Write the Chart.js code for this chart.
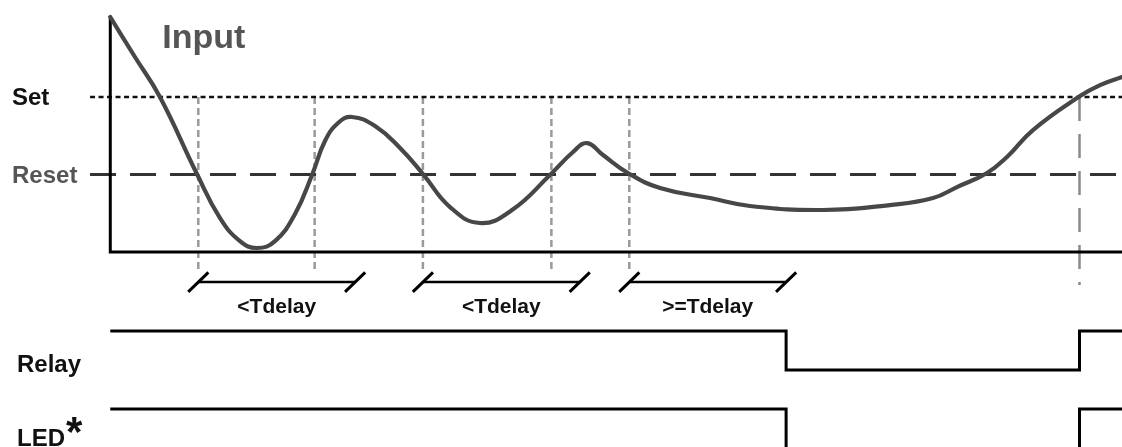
<!DOCTYPE html>
<html>
<head>
<meta charset="utf-8">
<script src="https://cdn.jsdelivr.net/npm/chart.js@4.4.0/dist/chart.umd.min.js"></script>
<style>
  html, body { margin: 0; padding: 0; background: #fff; }
  #wrap { width: 1122px; height: 447px; position: relative; }
</style>
</head>
<body>
<div id="wrap"><canvas id="c"></canvas></div>
<script>
// ---------------- DATA ----------------
// Input signal (time units, input level where Set = 1, Reset = 0.5)
const inputTime  = [0, 2.44, 4.91, 8.57, 10.85, 12.82, 14.5, 16.28, 18.26, 19.94, 21.22, 22.51, 23.89, 26.17, 28.64, 30.91, 33.58, 36.54, 39.71, 43.46, 45.74, 47.12, 48.7, 51.17, 54.34, 59.28, 63.23, 70.45, 77.07, 81.32, 83.69, 86.66, 88.63, 91.2, 95.85, 97.83, 100];
const inputLevel = [1.516, 1.258, 1.0, 0.503, 0.219, 0.07, 0.026, 0.07, 0.245, 0.497, 0.716, 0.832, 0.871, 0.813, 0.671, 0.503, 0.29, 0.187, 0.271, 0.497, 0.645, 0.703, 0.626, 0.51, 0.413, 0.348, 0.297, 0.271, 0.303, 0.348, 0.419, 0.51, 0.613, 0.787, 1.006, 1.077, 1.129];
const setLevel = 1.0;
const resetLevel = 0.5;
// Reset-crossing instants (dotted markers) and Set-crossing instant (dashed marker)
const resetCrossTimes = [8.7, 20.2, 30.9, 43.6, 51.3];
const setCrossTime = 95.8;
// Delay timers
const tdelay = 15.5;
const timerStarts = [8.7, 30.9, 51.3];
const timerLabels = ['<Tdelay', '<Tdelay', '>=Tdelay'];
// Outputs (1 = on, 0 = off)
const relayTime  = [0, 66.8, 95.8, 100];
const relayState = [1, 0, 1, 1];
const ledTime    = [0, 66.8, 95.8, 100];
const ledState   = [1, 0, 1, 1];
const rowLabels = { set: 'Set', reset: 'Reset', input: 'Input', relay: 'Relay', led: 'LED', note: '*' };

// ---------------- LAYOUT CONSTANTS ----------------
const axisTop = 1.523;        // top of the input axis (input units)
const markerBottom = -0.135;  // lower end of the dotted markers
const setMarkerBottom = -0.213;
const timerLevel = -0.194;    // level of the timer brackets
const thresholdStart = -2.0;  // threshold lines start left of the axis

const zip = (xs, ys) => xs.map((x, i) => ({ x, y: ys[i] }));
const tEnd = inputTime[inputTime.length - 1];

const datasets = [];
// input curve (on top)
datasets.push({
  data: zip(inputTime, inputLevel), yAxisID: 'yIn',
  borderColor: '#474747', borderWidth: 4.2, pointRadius: 0,
  tension: 0.45, borderCapStyle: 'round', borderJoinStyle: 'round'
});
// axes frame
datasets.push({
  data: [{ x: 0, y: axisTop }, { x: 0, y: 0 }, { x: tEnd, y: 0 }], yAxisID: 'yIn',
  borderColor: '#000', borderWidth: 3, pointRadius: 0, tension: 0, borderJoinStyle: 'miter'
});
// Set threshold
datasets.push({
  data: [{ x: thresholdStart, y: setLevel }, { x: tEnd, y: setLevel }], yAxisID: 'yIn',
  borderColor: '#111', borderWidth: 2.5, borderDash: [5, 3.5], pointRadius: 0
});
// Reset threshold
datasets.push({
  data: [{ x: thresholdStart, y: resetLevel }, { x: tEnd, y: resetLevel }], yAxisID: 'yIn',
  borderColor: '#333', borderWidth: 3, borderDash: [26, 14], pointRadius: 0
});
// markers
resetCrossTimes.forEach(t => datasets.push({
  data: [{ x: t, y: setLevel }, { x: t, y: markerBottom }], yAxisID: 'yIn',
  borderColor: '#9a9a9a', borderWidth: 2.5, borderDash: [7, 4], pointRadius: 0
}));
datasets.push({
  data: [{ x: setCrossTime, y: setLevel }, { x: setCrossTime, y: setMarkerBottom }], yAxisID: 'yIn',
  borderColor: '#8a8a8a', borderWidth: 2.5, borderDash: [24, 13], pointRadius: 0
});
// timer brackets
timerStarts.forEach(s => datasets.push({
  data: [{ x: s, y: timerLevel }, { x: s + tdelay, y: timerLevel }], yAxisID: 'yIn',
  borderColor: '#000', borderWidth: 2.5,
  pointStyle: 'line', pointRotation: -44, pointRadius: 14, pointBorderWidth: 3,
  pointBorderColor: '#000', pointBackgroundColor: '#000'
}));
// relay & LED
datasets.push({
  data: zip(relayTime, relayState), yAxisID: 'yRelay', stepped: 'before',
  borderColor: '#000', borderWidth: 3, pointRadius: 0, borderJoinStyle: 'miter'
});
datasets.push({
  data: zip(ledTime, ledState), yAxisID: 'yLed', stepped: 'before',
  borderColor: '#000', borderWidth: 3, pointRadius: 0, borderJoinStyle: 'miter'
});

const FONT = '"Liberation Sans", Arial, sans-serif';
const textPlugin = {
  id: 'texts',
  afterDatasetsDraw(chart) {
    const { ctx, scales: { x, yIn, yRelay, yLed } } = chart;
    ctx.save();
    ctx.textBaseline = 'alphabetic';
    ctx.textAlign = 'left';
    ctx.font = `bold 24px ${FONT}`;
    ctx.fillStyle = '#111';
    ctx.fillText(rowLabels.set, 12, yIn.getPixelForValue(setLevel) + 8);
    ctx.fillStyle = '#555';
    ctx.fillText(rowLabels.reset, 12, yIn.getPixelForValue(resetLevel) + 8);
    ctx.fillStyle = '#111';
    ctx.fillText(rowLabels.relay, 17, yRelay.getPixelForValue(0) + 2);
    const ledBase = yLed.getPixelForValue(1) + 37;
    ctx.fillText(rowLabels.led, 17, ledBase);
    const ledW = ctx.measureText(rowLabels.led).width;
    ctx.font = `bold 42px ${FONT}`;
    ctx.fillText(rowLabels.note, 17 + ledW + 1, ledBase);
    ctx.font = `bold 34px ${FONT}`;
    ctx.fillStyle = '#555';
    ctx.fillText(rowLabels.input, x.getPixelForValue(0) + 52, yIn.getPixelForValue(axisTop) + 32);
    ctx.font = `bold 21px ${FONT}`;
    ctx.fillStyle = '#111';
    ctx.textAlign = 'center';
    timerStarts.forEach((s, i) => {
      ctx.fillText(timerLabels[i], x.getPixelForValue(s + tdelay / 2), yIn.getPixelForValue(timerLevel) + 31);
    });
    ctx.restore();
  }
};

new Chart(document.getElementById('c'), {
  type: 'line',
  data: { datasets },
  options: {
    responsive: true, maintainAspectRatio: false, animation: false,
    layout: { padding: 0, autoPadding: false },
    plugins: { legend: { display: false }, tooltip: { enabled: false } },
    events: [],
    scales: {
      x: { type: 'linear', min: -10.9, max: 100, display: false },
      yIn: { type: 'linear', min: -1.258, max: 1.6258, display: false },
      yRelay: { type: 'linear', min: -1.974, max: 9.487, display: false },
      yLed: { type: 'linear', min: 0.5, max: 6.382, display: false }
    }
  },
  plugins: [textPlugin]
});
</script>
</body>
</html>
